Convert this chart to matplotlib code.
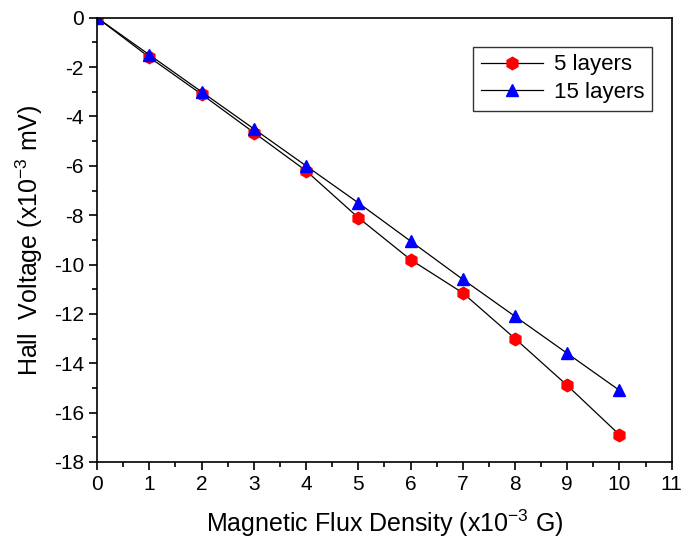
import matplotlib
matplotlib.use("Agg")
import matplotlib.pyplot as plt
from matplotlib.ticker import MultipleLocator

plt.rcParams['font.family'] = ['Liberation Sans', 'DejaVu Sans']
plt.rcParams['axes.unicode_minus'] = False
plt.rcParams['mathtext.fontset'] = 'custom'
plt.rcParams['mathtext.rm'] = 'Liberation Sans'
plt.rcParams['mathtext.default'] = 'regular'

x = [0, 1, 2, 3, 4, 5, 6, 7, 8, 9, 10]
layers5 = [0, -1.6, -3.1, -4.65, -6.2, -8.1, -9.8, -11.15, -13.0, -14.9, -16.9]
layers15 = [0, -1.5, -3.0, -4.5, -6.0, -7.5, -9.05, -10.6, -12.1, -13.6, -15.1]

fig = plt.figure(figsize=(6.84, 5.39), dpi=100)
ax = fig.add_axes([0.142, 0.143, 0.840, 0.824])

ax.plot(x, layers5, color='black', lw=0.9, marker='h', markersize=9,
        markerfacecolor='red', markeredgecolor='red', label='5 layers')
ax.plot(x, layers15, color='black', lw=0.9, marker='^', markersize=9,
        markerfacecolor='blue', markeredgecolor='blue', label='15 layers')

ax.set_xlim(0, 11)
ax.set_ylim(-18, 0)
ax.xaxis.set_major_locator(MultipleLocator(1))
ax.xaxis.set_minor_locator(MultipleLocator(0.5))
ax.yaxis.set_major_locator(MultipleLocator(2))
ax.yaxis.set_minor_locator(MultipleLocator(1))
ax.tick_params(which='both', direction='out', top=False, right=False, width=1.2, labelsize=15)
ax.tick_params(which='major', length=6)
ax.tick_params(which='minor', length=3.5)
for s in ax.spines.values():
    s.set_linewidth(1.2)

ax.set_xlabel('Magnetic Flux Density (x10$^{-3}$ G)', fontsize=18, labelpad=10)
ax.set_ylabel('Hall  Voltage (x10$^{-3}$ mV)', fontsize=18, labelpad=6)

leg = ax.legend(loc='upper right', bbox_to_anchor=(0.966, 0.935), fontsize=16, frameon=True,
                fancybox=False, edgecolor='black', handlelength=2.8, borderpad=0.35,
                labelspacing=0.3, handletextpad=0.5, borderaxespad=0)
leg.get_frame().set_linewidth(1.0)

fig.savefig('out.png', dpi=100)
